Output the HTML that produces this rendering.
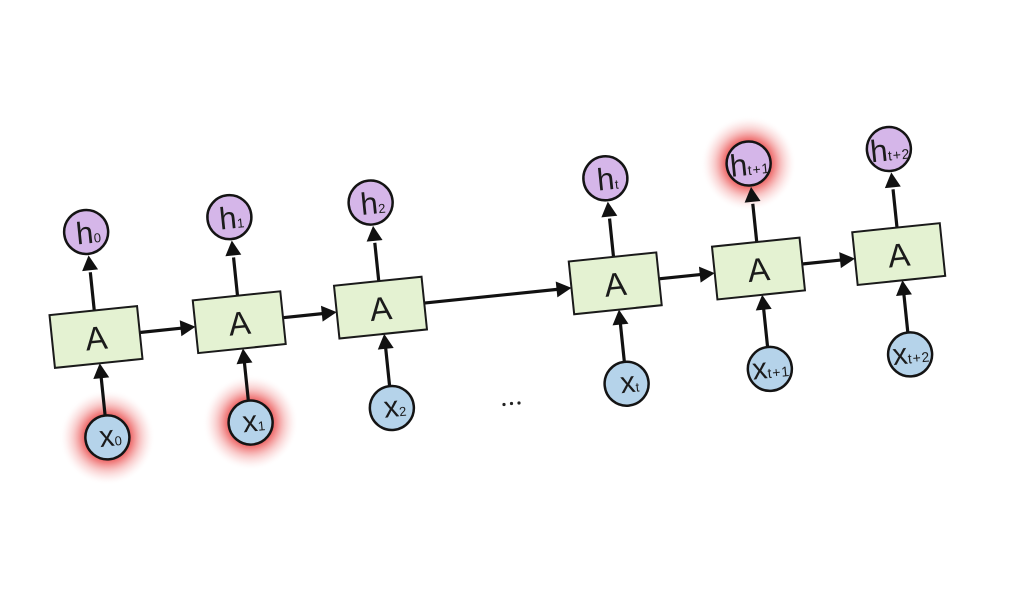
<!DOCTYPE html>
<html>
<head>
<meta charset="utf-8">
<style>
  html,body{margin:0;padding:0;background:#fff;}
  svg{display:block;}
  text{font-family:"Liberation Sans","DejaVu Sans",sans-serif;fill:#1b1b1b;}
</style>
</head>
<body>
<svg width="1024" height="612" viewBox="0 0 1024 612" xmlns="http://www.w3.org/2000/svg">
  <defs>
    <radialGradient id="glow" cx="50%" cy="50%" r="50%">
      <stop offset="0.44" stop-color="#e84444" stop-opacity="0.9"/>
      <stop offset="0.55" stop-color="#ec5a5a" stop-opacity="0.7"/>
      <stop offset="0.7" stop-color="#f08282" stop-opacity="0.42"/>
      <stop offset="0.85" stop-color="#f5aaaa" stop-opacity="0.18"/>
      <stop offset="1" stop-color="#ffffff" stop-opacity="0"/>
    </radialGradient>
  </defs>
  <rect width="1024" height="612" fill="#fff"/>

  <g transform="rotate(-5.9 96 337)">
    <!-- glows -->
    <circle cx="97" cy="438" r="48" fill="url(#glow)"/>
    <circle cx="241" cy="438" r="48" fill="url(#glow)"/>
    <circle cx="763" cy="231.5" r="48" fill="url(#glow)"/>

    <!-- horizontal arrows -->
    <g stroke="#111" stroke-width="3.2" fill="none">
      <line x1="140" y1="337" x2="184" y2="337"/>
      <line x1="284" y1="337" x2="326" y2="337"/>
      <line x1="426" y1="337" x2="562" y2="337"/>
      <line x1="662" y1="337" x2="706" y2="337"/>
      <line x1="806" y1="337" x2="847" y2="337"/>
    </g>
    <g fill="#111">
      <polygon points="196,337 181,329 181,345"/>
      <polygon points="338,337 323,329 323,345"/>
      <polygon points="574,337 559,329 559,345"/>
      <polygon points="718,337 703,329 703,345"/>
      <polygon points="859,337 844,329 844,345"/>
    </g>

    <!-- vertical arrows -->
    <g stroke="#111" stroke-width="3.2">
      <line x1="97" y1="310" x2="97" y2="272"/>
      <line x1="241" y1="310" x2="241" y2="272"/>
      <line x1="383" y1="310" x2="383" y2="272"/>
      <line x1="619" y1="310" x2="619" y2="272"/>
      <line x1="763" y1="310" x2="763" y2="272"/>
      <line x1="904" y1="310" x2="904" y2="272"/>

      <line x1="97" y1="416" x2="97" y2="375"/>
      <line x1="241" y1="416" x2="241" y2="375"/>
      <line x1="383" y1="416" x2="383" y2="375"/>
      <line x1="619" y1="416" x2="619" y2="375"/>
      <line x1="763" y1="416" x2="763" y2="375"/>
      <line x1="904" y1="416" x2="904" y2="375"/>
    </g>
    <g fill="#111">
      <polygon points="97,255 89,270 105,270"/>
      <polygon points="241,255 233,270 249,270"/>
      <polygon points="383,255 375,270 391,270"/>
      <polygon points="619,255 611,270 627,270"/>
      <polygon points="763,255 755,270 771,270"/>
      <polygon points="904,255 896,270 912,270"/>

      <polygon points="97,363.5 89,378.5 105,378.5"/>
      <polygon points="241,363.5 233,378.5 249,378.5"/>
      <polygon points="383,363.5 375,378.5 391,378.5"/>
      <polygon points="619,363.5 611,378.5 627,378.5"/>
      <polygon points="763,363.5 755,378.5 771,378.5"/>
      <polygon points="904,363.5 896,378.5 912,378.5"/>
    </g>

    <!-- boxes -->
    <g fill="#e4f2d2" stroke="#1a1a1a" stroke-width="2">
      <rect x="52" y="310.5" width="88" height="53"/>
      <rect x="196" y="310.5" width="88" height="53"/>
      <rect x="338" y="310.5" width="88" height="53"/>
      <rect x="574" y="310.5" width="88" height="53"/>
      <rect x="718" y="310.5" width="88" height="53"/>
      <rect x="859" y="310.5" width="88" height="53"/>
    </g>
    <g font-size="33" text-anchor="middle">
      <text x="96" y="349.5">A</text>
      <text x="240" y="349.5">A</text>
      <text x="382" y="349.5">A</text>
      <text x="618" y="349.5">A</text>
      <text x="762" y="349.5">A</text>
      <text x="903" y="349.5">A</text>
    </g>

    <!-- h circles -->
    <g fill="#d5b6e9" stroke="#141414" stroke-width="2.5">
      <circle cx="97" cy="231.5" r="22"/>
      <circle cx="241" cy="231.5" r="22"/>
      <circle cx="383" cy="231.5" r="22"/>
      <circle cx="619" cy="231.5" r="22"/>
      <circle cx="763" cy="231.5" r="22"/>
      <circle cx="904" cy="231.5" r="22"/>
    </g>
    <!-- x circles -->
    <g fill="#b5d3ea" stroke="#141414" stroke-width="2.5">
      <circle cx="97" cy="438" r="22"/>
      <circle cx="241" cy="438" r="22"/>
      <circle cx="383" cy="438" r="22"/>
      <circle cx="619" cy="438" r="22"/>
      <circle cx="763" cy="438" r="22"/>
      <circle cx="904" cy="438" r="22"/>
    </g>

    <!-- h labels -->
    <g text-anchor="middle">
      <text x="99" y="243" font-size="31">h<tspan font-size="13">0</tspan></text>
      <text x="243" y="243" font-size="31">h<tspan font-size="13">1</tspan></text>
      <text x="385" y="243" font-size="31">h<tspan font-size="13">2</tspan></text>
      <text x="621" y="243" font-size="31">h<tspan font-size="13">t</tspan></text>
      <text x="764" y="243" font-size="31">h<tspan font-size="14" letter-spacing="0.8">t+1</tspan></text>
      <text x="905" y="243" font-size="31">h<tspan font-size="14" letter-spacing="0.8">t+2</tspan></text>
    </g>
    <!-- x labels -->
    <g text-anchor="middle">
      <text x="100" y="447" font-size="30">x<tspan font-size="13">0</tspan></text>
      <text x="244" y="447" font-size="30">x<tspan font-size="13">1</tspan></text>
      <text x="386" y="447" font-size="30">x<tspan font-size="13">2</tspan></text>
      <text x="622" y="447" font-size="30">x<tspan font-size="13">t</tspan></text>
      <text x="764" y="447" font-size="30">x<tspan font-size="14" letter-spacing="0.8">t+1</tspan></text>
      <text x="905" y="447" font-size="30">x<tspan font-size="14" letter-spacing="0.8">t+2</tspan></text>
    </g>
  </g>

  <!-- ellipsis -->
  <g fill="#222">
    <circle cx="504" cy="404.5" r="1.6"/>
    <circle cx="511.5" cy="403.5" r="1.6"/>
    <circle cx="519" cy="403" r="1.6"/>
  </g>
</svg>
</body>
</html>
